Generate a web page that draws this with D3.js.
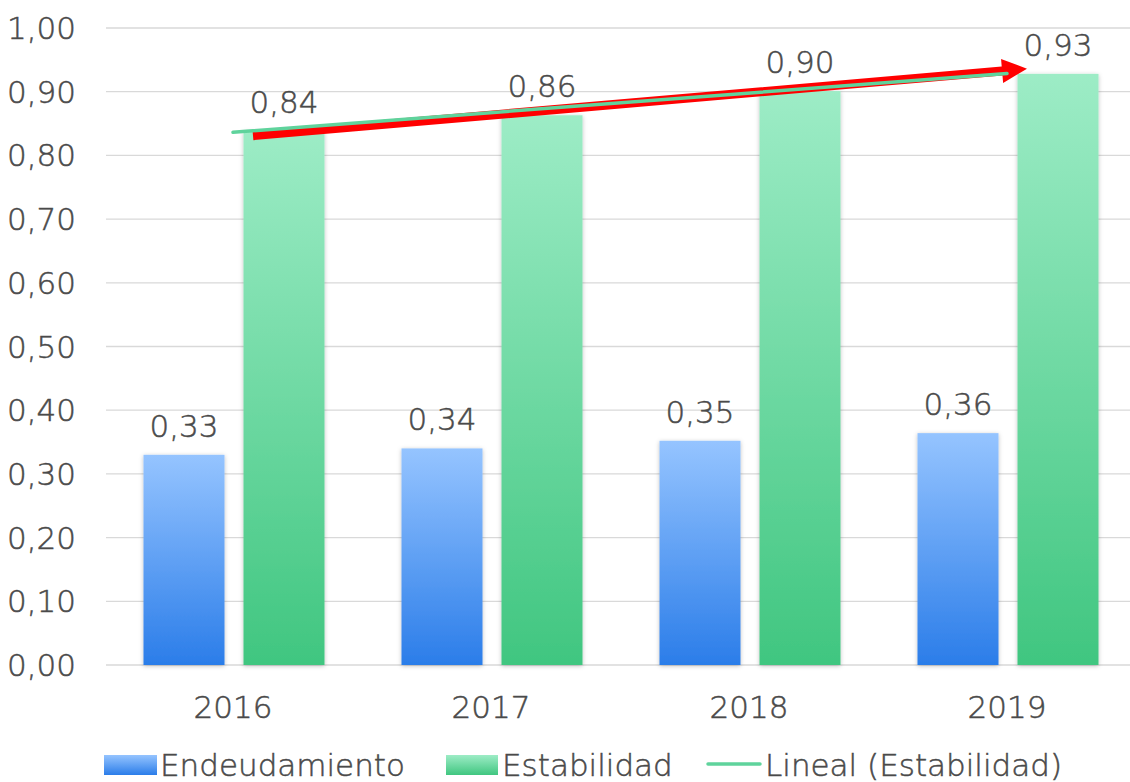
<!DOCTYPE html>
<html lang="es">
<head>
<meta charset="UTF-8">
<title>Endeudamiento y Estabilidad</title>
<script src="https://d3js.org/d3.v7.min.js"></script>
<style>
    body { margin: 0; background: #fff; }
    svg text { font-family: "DejaVu Sans", sans-serif; font-weight: 200; fill: #4a4a4a; stroke: #4a4a4a; stroke-width: 0.5px; }
</style>
</head>
<body>
<svg id="chart" width="1130" height="782"></svg>
<script>
    const years = ["2016", "2017", "2018", "2019"];
    const endeudamiento = [0.33, 0.34, 0.352, 0.364];
    const estabilidad = [0.838, 0.863, 0.901, 0.928];
    const yTicks = [0, 0.1, 0.2, 0.3, 0.4, 0.5, 0.6, 0.7, 0.8, 0.9, 1.0];

    const svg = d3.select("#chart");
    const fmt = v => d3.format(".2f")(v).replace(".", ",");
    const fs = 31;

    const x = d3.scaleBand().domain(years).range([104, 1136]);
    const y = d3.scaleLinear().domain([0, 1]).range([665, 28]);

    const defs = svg.append("defs");
    function grad(id, top, bottom) {
        const g = defs.append("linearGradient").attr("id", id)
            .attr("x1", 0).attr("y1", 0).attr("x2", 0).attr("y2", 1);
        g.append("stop").attr("offset", "0%").attr("stop-color", top);
        g.append("stop").attr("offset", "100%").attr("stop-color", bottom);
    }
    grad("gBlue", "#95c4ff", "#2b7de9");
    grad("gGreen", "#9decc6", "#40c680");

    const shadow = defs.append("filter").attr("id", "shadow")
        .attr("x", "-20%").attr("y", "-5%").attr("width", "140%").attr("height", "110%");
    shadow.append("feDropShadow").attr("dx", 0).attr("dy", 1)
        .attr("stdDeviation", 2).attr("flood-color", "#000").attr("flood-opacity", 0.25);

    // gridlines
    svg.append("g").selectAll("line").data(yTicks).join("line")
        .attr("x1", 106).attr("x2", 1130)
        .attr("y1", d => y(d)).attr("y2", d => y(d))
        .attr("stroke", "#d9d9d9").attr("stroke-width", 1.3);

    // y tick labels
    svg.append("g").selectAll("text").data(yTicks).join("text")
        .attr("x", 76).attr("y", d => y(d) + 11)
        .attr("text-anchor", "end").attr("font-size", fs)
        .text(d => fmt(d));

    const barW = 81;
    const blueOff = -49, greenOff = 51;
    const cx = d => x(d) + x.bandwidth() / 2;

    // bars
    svg.append("g").selectAll("rect").data(years).join("rect")
        .attr("x", (d) => cx(d) + blueOff - barW / 2)
        .attr("y", (d, i) => y(endeudamiento[i]))
        .attr("width", barW)
        .attr("height", (d, i) => y(0) - y(endeudamiento[i]))
        .attr("fill", "url(#gBlue)").attr("filter", "url(#shadow)");

    svg.append("g").selectAll("rect").data(years).join("rect")
        .attr("x", (d) => cx(d) + greenOff - barW / 2)
        .attr("y", (d, i) => y(estabilidad[i]))
        .attr("width", barW)
        .attr("height", (d, i) => y(0) - y(estabilidad[i]))
        .attr("fill", "url(#gGreen)").attr("filter", "url(#shadow)");

    // value labels
    svg.append("g").selectAll("text").data(years).join("text")
        .attr("x", d => cx(d) + blueOff)
        .attr("y", (d, i) => y(endeudamiento[i]) - 18)
        .attr("text-anchor", "middle").attr("font-size", fs)
        .text((d, i) => fmt(endeudamiento[i]));

    svg.append("g").selectAll("text").data(years).join("text")
        .attr("x", d => cx(d) + greenOff)
        .attr("y", (d, i) => y(estabilidad[i]) - 18)
        .attr("text-anchor", "middle").attr("font-size", fs)
        .text((d, i) => fmt(estabilidad[i]));

    // red arrow annotation
    const ax1 = cx("2016") + 20, ay1 = y(0.831);
    const ax2 = cx("2019") + 20, ay2 = y(0.936);
    const ang = Math.atan2(ay2 - ay1, ax2 - ax1);
    const len = Math.hypot(ax2 - ax1, ay2 - ay1);
    const headL = 25, headW = 12, shaft = 4.5;
    svg.append("path")
        .attr("transform", `translate(${ax1},${ay1}) rotate(${ang * 180 / Math.PI})`)
        .attr("d", `M0,${-shaft}L${len - headL},${-shaft}L${len - headL},${-headW}L${len},0L${len - headL},${headW}L${len - headL},${shaft}L0,${shaft}Z`)
        .attr("fill", "#ff0000");

    // linear trend of Estabilidad
    const n = estabilidad.length;
    const xs = d3.range(1, n + 1);
    const mx = d3.mean(xs), my = d3.mean(estabilidad);
    const slope = d3.sum(xs, (v, i) => (v - mx) * (estabilidad[i] - my)) / d3.sum(xs, v => (v - mx) ** 2);
    const icpt = my - slope * mx;
    svg.append("line")
        .attr("x1", cx(years[0])).attr("y1", y(icpt + slope * 1))
        .attr("x2", cx(years[n - 1])).attr("y2", y(icpt + slope * n))
        .attr("stroke", "#5fd39c").attr("stroke-width", 3.5).attr("stroke-linecap", "round");

    // x labels
    svg.append("g").selectAll("text").data(years).join("text")
        .attr("x", d => cx(d)).attr("y", 718)
        .attr("text-anchor", "middle").attr("font-size", fs)
        .text(d => d);

    // legend
    const lg = svg.append("g");
    lg.append("rect").attr("x", 104).attr("y", 755).attr("width", 53).attr("height", 20).attr("fill", "url(#gBlue)");
    lg.append("text").attr("x", 160).attr("y", 776).attr("font-size", fs).text("Endeudamiento");
    lg.append("rect").attr("x", 446).attr("y", 755).attr("width", 52).attr("height", 20).attr("fill", "url(#gGreen)");
    lg.append("text").attr("x", 502).attr("y", 776).attr("font-size", fs).text("Estabilidad");
    lg.append("line").attr("x1", 708).attr("x2", 760).attr("y1", 764).attr("y2", 764)
        .attr("stroke", "#5fd39c").attr("stroke-width", 3.5).attr("stroke-linecap", "round");
    lg.append("text").attr("x", 765).attr("y", 776).attr("font-size", fs).text("Lineal (Estabilidad)");
</script>
</body>
</html>
